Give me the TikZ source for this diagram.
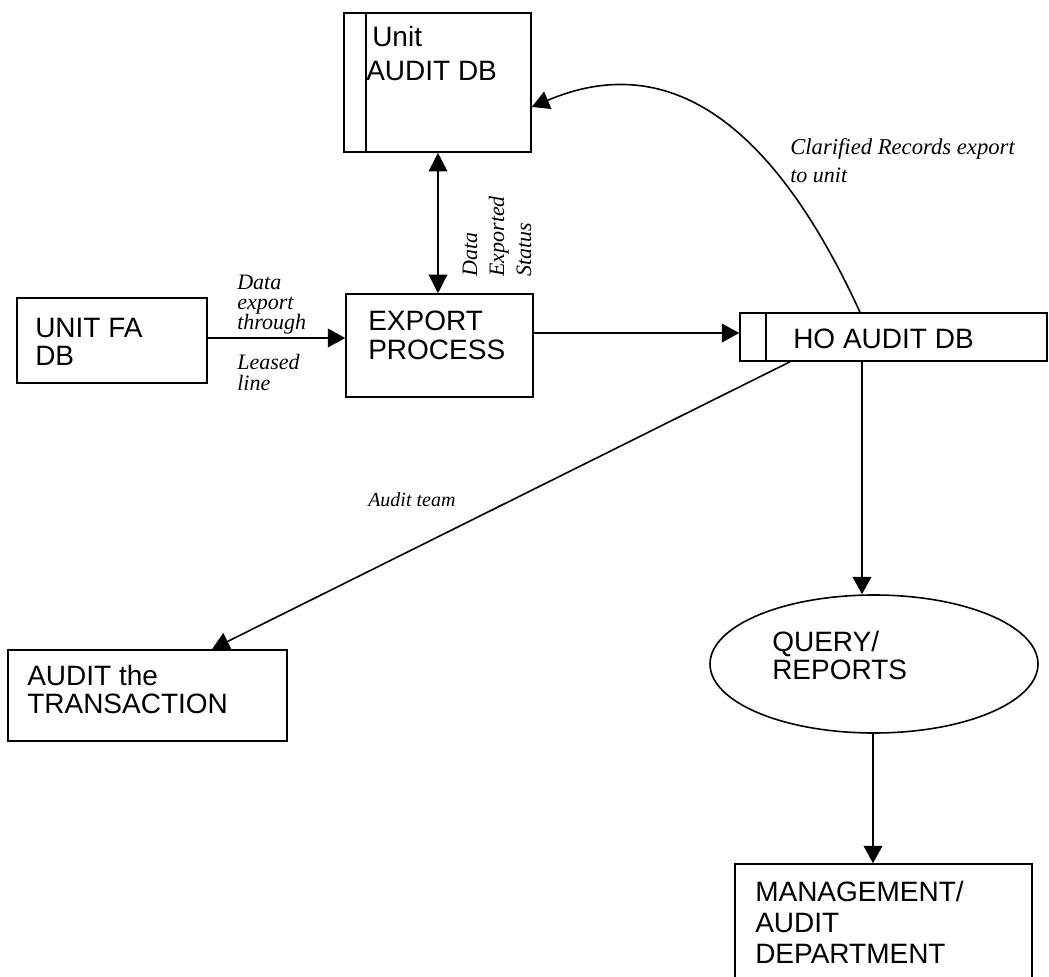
\documentclass[tikz,border=0pt]{standalone}
\usepackage{fontspec}
\setmainfont{Liberation Serif}
\setsansfont{Liberation Sans}
\usetikzlibrary{arrows.meta,shapes.geometric,fit}
\tikzset{
  box/.style={draw, line width=1.2pt, inner sep=0pt, rectangle},
  lbl/.style={anchor=base west, inner sep=0pt, font=\sffamily\fontsize{21}{24}\selectfont},
  ital/.style={anchor=base west, inner sep=0pt, font=\itshape\fontsize{16.5}{20}\selectfont},
  conn/.style={line width=1.2pt},
  arr/.style={conn, -{Triangle[length=13pt,width=14pt]}},
  darr/.style={conn, {Triangle[length=14pt,width=14pt]}-{Triangle[length=14pt,width=14pt]}}
}
\begin{document}
\begin{tikzpicture}[x=0.75pt,y=-0.75pt]
\useasboundingbox (0,0) rectangle (1049,977);
\clip (0,0) rectangle (1049,977);
\fill[white] (0,0) rectangle (1049,977);

% boxes
\node[box, fit={(344,13) (531,152)}] (unitdb) {};
\draw[conn] (unitdb.north -| 366,0) -- (unitdb.south -| 366,0);
\node[box, fit={(17,298) (207,383)}] (unitfa) {};
\node[box, fit={(346,294) (533,397)}] (export) {};
\node[box, fit={(740,313) (1047,361)}] (hodb) {};
\draw[conn] (hodb.north -| 766,0) -- (hodb.south -| 766,0);
\node[box, fit={(8,650) (287,741)}] (audit) {};
\node[draw, line width=1.2pt, ellipse, inner sep=0pt, minimum width=246pt, minimum height=103.5pt] (query) at (874,664) {};
\node[box, fit={(735,864) (1032,995)}] (mgmt) {};

% box texts
\node[lbl] (t1) at (372,47) {Unit};
\node[lbl] (t2) at (366,81) {AUDIT DB};
\node[lbl] (t3) at (35,337) {UNIT FA};
\node[lbl] (t4) at (35,365) {DB};
\node[lbl] (t5) at (368,330) {EXPORT};
\node[lbl] (t6) at (368,359) {PROCESS};
\node[lbl] (t7) at (793,348) {HO AUDIT DB};
\node[lbl] (t8) at (772,651) {QUERY/};
\node[lbl] (t9) at (772,679) {REPORTS};
\node[lbl] (t10) at (27,685) {AUDIT the};
\node[lbl] (t11) at (27,713) {TRANSACTION};
\node[lbl] (t12) at (755,901) {MANAGEMENT/};
\node[lbl] (t13) at (755,932) {AUDIT};
\node[lbl] (t14) at (755,963) {DEPARTMENT};

% connectors
\draw[arr] (unitfa.east |- 0,338) -- (export.west |- 0,338);
\draw[darr] (unitdb.south -| 438,0) -- (export.north -| 438,0);
\draw[arr] (export.east |- 0,333) -- (hodb.west |- 0,333);
\draw[arr] (hodb.north -| 860,0) .. controls (790,160) and (690,40) .. (unitdb.east |- 0,107);
\draw[arr] (hodb.south -| 790,0) -- (audit.north -| 212,0);
\draw[arr] (hodb.south -| 862,0) -- (query.north -| 862,0);
\draw[arr] (query.south -| 873,0) -- (mgmt.north -| 873,0);

% connector labels
\node[ital] (l1) at (237,289) {Data};
\node[ital] (l2) at (237,309) {export};
\node[ital] (l3) at (237,329) {through};
\node[ital] (l4) at (237,369) {Leased};
\node[ital] (l5) at (237,390) {line};
\node[ital, rotate=90] (l6) at (477,277) {Data};
\node[ital, rotate=90] (l7) at (504,277) {Exported};
\node[ital, rotate=90] (l8) at (531,277) {Status};
\node[ital, font=\itshape\fontsize{17}{20}\selectfont] (l9) at (790,155) {Clarified Records export};
\node[ital] (l10) at (790,183) {to unit};
\node[ital, font=\itshape\fontsize{15}{18}\selectfont] (l11) at (368,506) {Audit team};
\end{tikzpicture}
\end{document}
